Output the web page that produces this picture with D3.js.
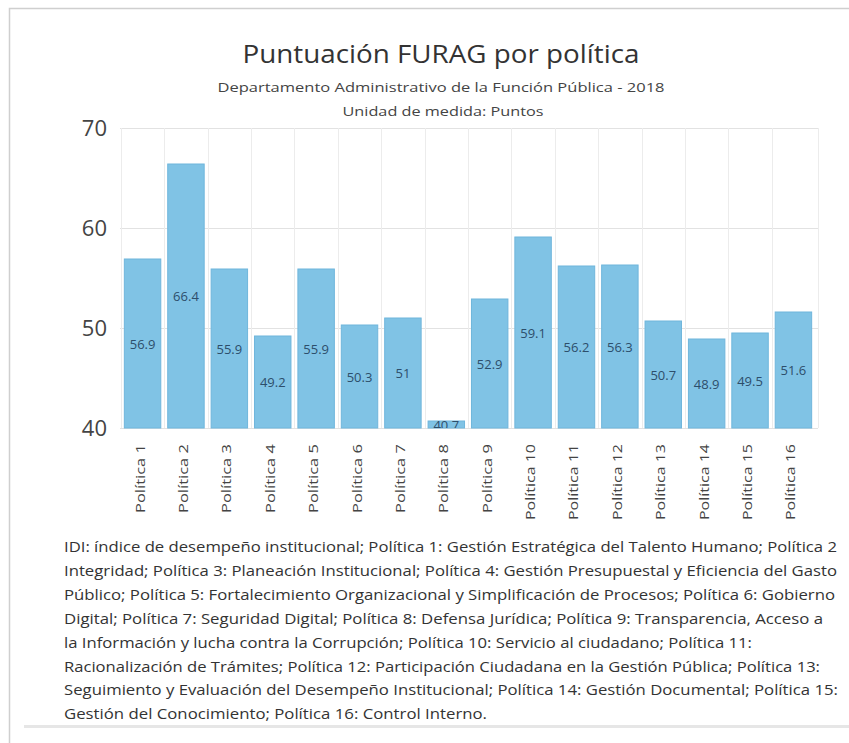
<!DOCTYPE html>
<html>
<head>
<meta charset="utf-8">
<script src="https://cdn.jsdelivr.net/npm/d3@7"></script>
<style>
  body { margin: 0; background: #fff; font-family: "Open Sans", "Noto Sans", sans-serif; }
</style>
</head>
<body>
<div id="chart"></div>
<script>
var categories = ["Política 1", "Política 2", "Política 3", "Política 4", "Política 5", "Política 6",
  "Política 7", "Política 8", "Política 9", "Política 10", "Política 11", "Política 12",
  "Política 13", "Política 14", "Política 15", "Política 16"];
var values = [56.9, 66.4, 55.9, 49.2, 55.9, 50.3, 51, 40.7, 52.9, 59.1, 56.2, 56.3, 50.7, 48.9, 49.5, 51.6];
var yTicks = [40, 50, 60, 70];
var footLines = [
  "IDI: índice de desempeño institucional; Política 1: Gestión Estratégica del Talento Humano; Política 2",
  "Integridad; Política 3: Planeación Institucional; Política 4: Gestión Presupuestal y Eficiencia del Gasto",
  "Público; Política 5: Fortalecimiento Organizacional y Simplificación de Procesos; Política 6: Gobierno",
  "Digital; Política 7: Seguridad Digital; Política 8: Defensa Jurídica; Política 9: Transparencia, Acceso a",
  "la Información y lucha contra la Corrupción; Política 10: Servicio al ciudadano; Política 11:",
  "Racionalización de Trámites; Política 12: Participación Ciudadana en la Gestión Pública; Política 13:",
  "Seguimiento y Evaluación del Desempeño Institucional; Política 14: Gestión Documental; Política 15:",
  "Gestión del Conocimiento; Política 16: Control Interno."
];
// measured widths of each footnote line in the picture
var footWidths = [773, 773, 771, 759, 688, 756, 774, 423];

var W = 849, H = 743;
var svg = d3.select("#chart").append("svg")
    .attr("width", W)
    .attr("height", H);

// frame
svg.append("rect").attr("x", 0).attr("y", 0).attr("width", W).attr("height", H).attr("fill", "#fff");
svg.append("rect").attr("x", 9.5).attr("y", 8.5).attr("width", W + 10).attr("height", H)
    .attr("fill", "none").attr("stroke", "#cfcfcf").attr("stroke-width", 1.5);
svg.append("rect").attr("x", 24).attr("y", 725).attr("width", W).attr("height", 3).attr("fill", "#e6e6e6");

// titles
svg.append("text").attr("x", 441).attr("y", 63).attr("text-anchor", "middle")
    .attr("textLength", 397).attr("lengthAdjust", "spacingAndGlyphs")
    .style("font-size", "25px").style("fill", "#333").text("Puntuación FURAG por política");
svg.append("text").attr("x", 441).attr("y", 92).attr("text-anchor", "middle")
    .attr("textLength", 447).attr("lengthAdjust", "spacingAndGlyphs")
    .style("font-size", "13.5px").style("fill", "#444").text("Departamento Administrativo de la Función Pública - 2018");
svg.append("text").attr("x", 443).attr("y", 116).attr("text-anchor", "middle")
    .attr("textLength", 201).attr("lengthAdjust", "spacingAndGlyphs")
    .style("font-size", "13.5px").style("fill", "#444").text("Unidad de medida: Puntos");

var x = d3.scaleBand().domain(categories).range([120, 816]).paddingInner(0.16).paddingOuter(0.1);
var y = d3.scaleLinear().domain([40, 70]).range([428, 128]);

// grid
var g = svg.append("g");
g.selectAll(".hg").data(yTicks).enter().append("line")
    .attr("x1", 120).attr("x2", 818)
    .attr("y1", function(d) { return y(d) + 0.5; }).attr("y2", function(d) { return y(d) + 0.5; })
    .attr("stroke", "#e2e2e2");
var gap = x.step() - x.bandwidth();
var vLines = categories.map(function(c) { return x(c) - gap / 2; });
vLines.push(818);
g.selectAll(".vg").data(vLines).enter().append("line")
    .attr("x1", function(d) { return Math.round(d) + 0.5; })
    .attr("x2", function(d) { return Math.round(d) + 0.5; })
    .attr("y1", 128).attr("y2", 428)
    .attr("stroke", "#ececec");

// y axis labels
svg.selectAll(".yl").data(yTicks).enter().append("text")
    .attr("x", 107).attr("y", function(d) { return y(d) + 8; })
    .attr("text-anchor", "end")
    .style("font-size", "22px").style("fill", "#444")
    .text(function(d) { return d; });

// clip paths so labels stay inside bars
var defs = svg.append("defs");
defs.selectAll("clipPath").data(values).enter().append("clipPath")
    .attr("id", function(d, i) { return "c" + i; })
  .append("rect")
    .attr("x", function(d, i) { return x(categories[i]); })
    .attr("y", function(d) { return y(d); })
    .attr("width", x.bandwidth())
    .attr("height", function(d) { return y(40) - y(d); });

// bars
svg.selectAll(".bar").data(values).enter().append("rect")
    .attr("x", function(d, i) { return x(categories[i]); })
    .attr("y", function(d) { return y(d); })
    .attr("width", x.bandwidth())
    .attr("height", function(d) { return y(40) - y(d); })
    .attr("fill", "#80c3e5")
    .attr("stroke", "#6fb6dc");

svg.selectAll(".val").data(values).enter().append("text")
    .attr("clip-path", function(d, i) { return "url(#c" + i + ")"; })
    .attr("x", function(d, i) { return x(categories[i]) + x.bandwidth() / 2; })
    .attr("y", function(d) { return (y(d) + y(40)) / 2 + 5; })
    .attr("text-anchor", "middle")
    .style("font-size", "13px").style("fill", "#2d4e6b")
    .text(function(d) { return d; });

// x labels
svg.selectAll(".xl").data(categories).enter().append("text")
    .attr("transform", function(d) {
      return "translate(" + (x(d) + x.bandwidth() / 2 + 2) + ",444) rotate(-90)";
    })
    .attr("text-anchor", "end")
    .attr("textLength", function(d) { return d.length > 10 ? 76 : 69; })
    .attr("lengthAdjust", "spacingAndGlyphs")
    .style("font-size", "13.5px").style("fill", "#444")
    .text(function(d) { return d; });

// footnote
svg.selectAll(".fn").data(footLines).enter().append("text")
    .attr("x", 64).attr("y", function(d, i) { return 552 + i * 23.9; })
    .attr("textLength", function(d, i) { return footWidths[i]; })
    .attr("lengthAdjust", "spacingAndGlyphs")
    .style("font-size", "15px").style("fill", "#333")
    .text(function(d) { return d; });
</script>
</body>
</html>
